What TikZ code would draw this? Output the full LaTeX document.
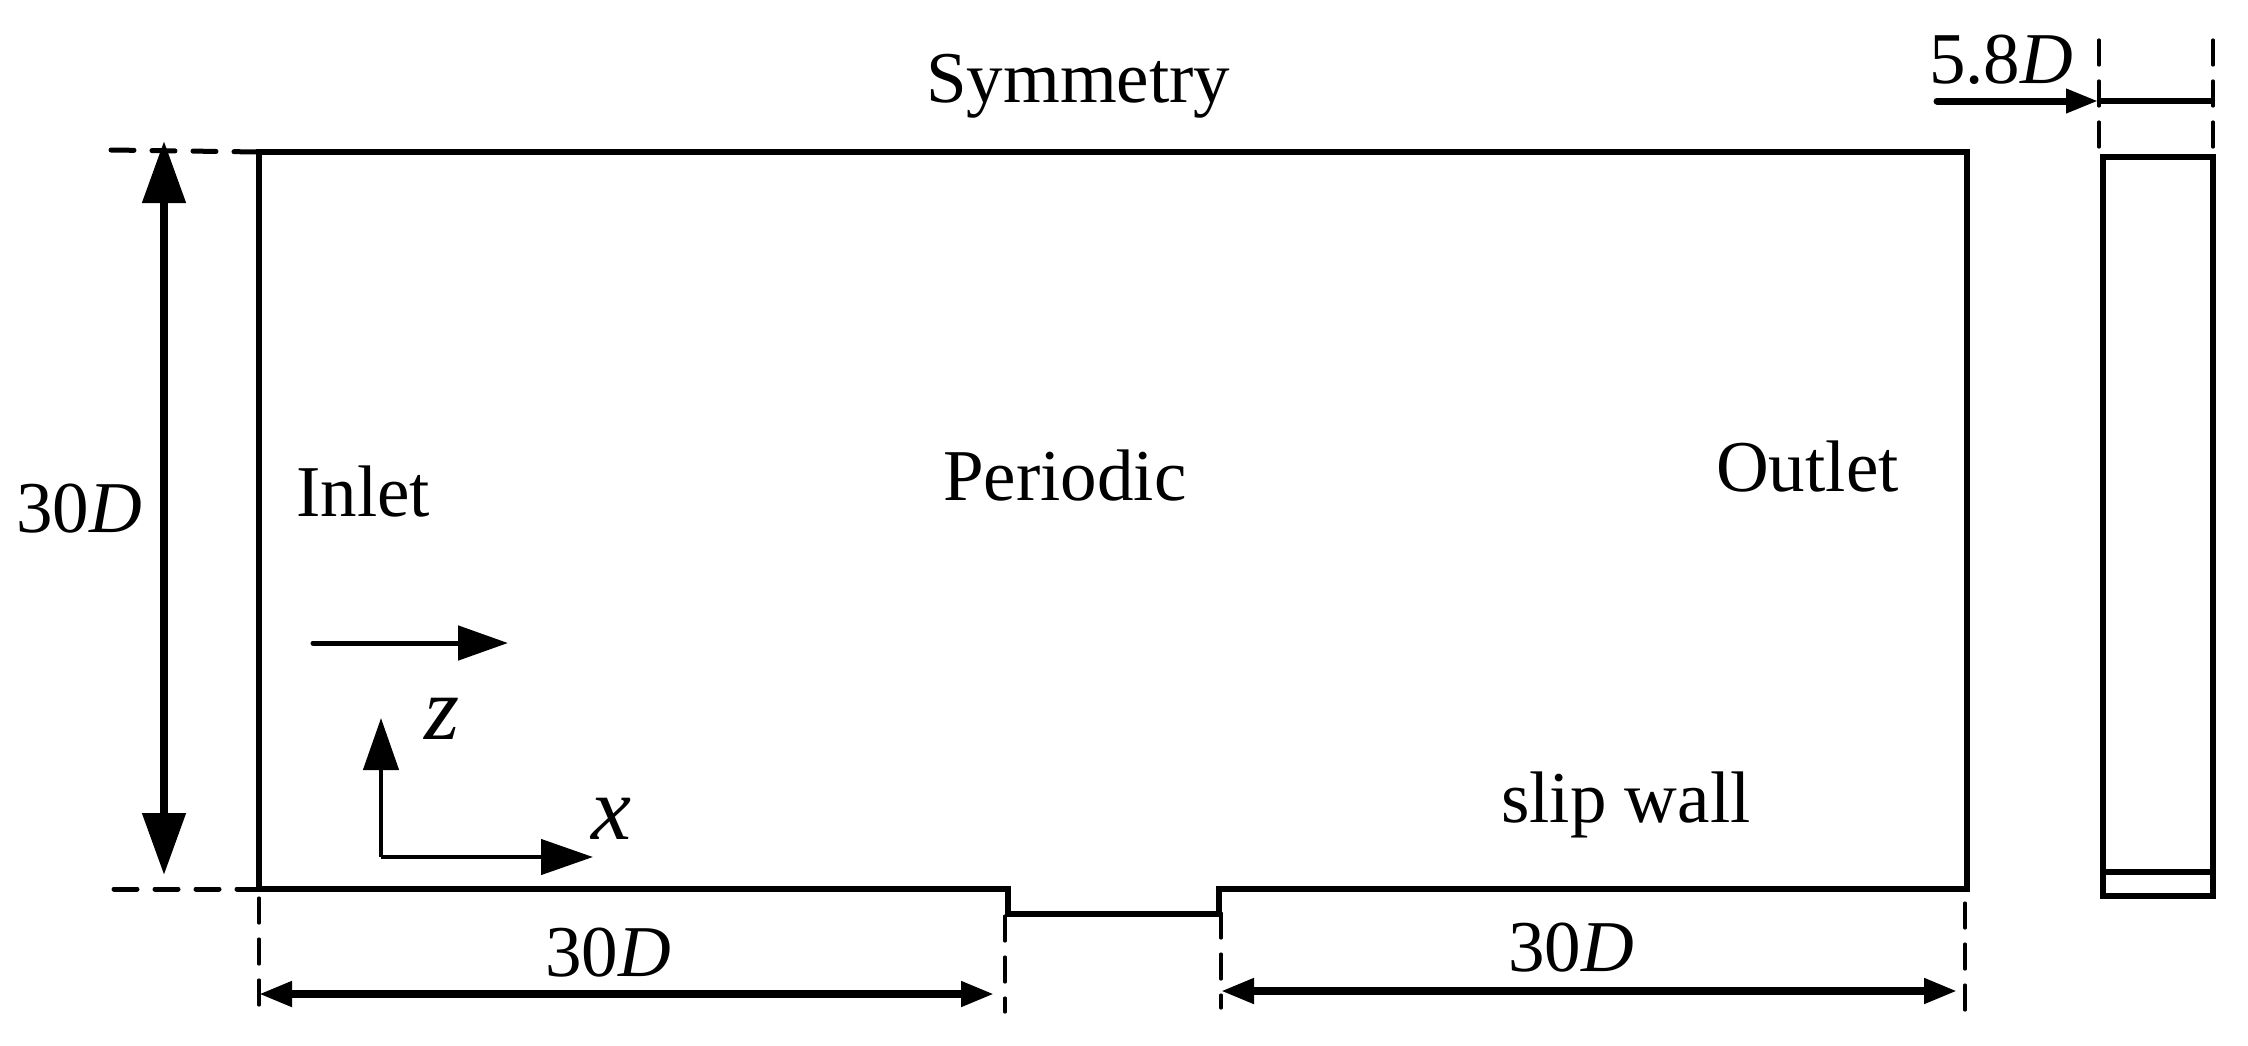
\documentclass[tikz,border=0pt]{standalone}
\usepackage{fontspec}
\setmainfont{Liberation Serif}
\usetikzlibrary{arrows.meta}
\tikzset{
  wall/.style={line width=5.5pt,line join=miter,line cap=butt},
  guide/.style={line width=3.2pt,dash pattern=on 25pt off 16pt,line cap=round},
  guideh/.style={line width=5pt,dash pattern=on 23pt off 18pt,line cap=round},
  bigdim/.style={line width=8pt,{Triangle[length=62pt,width=42pt]}-{Triangle[length=62pt,width=42pt]}},
  dimline/.style={line width=7.5pt,{Triangle[length=33pt,width=24pt]}-{Triangle[length=33pt,width=24pt]}},
  flow/.style={line width=5pt,line cap=round,-{Triangle[length=50pt,width=34pt]}},
  axis/.style={line width=4.5pt,-{Triangle[length=52pt,width=35pt]}},
  lab/.style={inner sep=0pt,anchor=base west,font=\fontsize{73}{80}\selectfont},
  axlab/.style={inner sep=0pt,anchor=base west,font=\fontsize{90}{96}\selectfont\itshape},
}
\begin{document}
\begin{tikzpicture}[x=1pt,y=-1pt]
\useasboundingbox (0,0) rectangle (2248,1045);
% domain corners
\coordinate (tl) at (259,152);
\coordinate (tr) at (1967,152);
\coordinate (br) at (1967,889);
\coordinate (sr1) at (1219,889);
\coordinate (sr2) at (1219,914);
\coordinate (sl2) at (1008,914);
\coordinate (sl1) at (1008,889);
\coordinate (bl) at (259,889);
\draw[wall] (tl) -- (tr) -- (br) -- (sr1) -- (sr2) -- (sl2) -- (sl1) -- (bl) -- cycle;
% side view
\coordinate (stl) at (2103,157);
\coordinate (str) at (2213,157);
\coordinate (sbr) at (2213,896);
\coordinate (sbl) at (2103,896);
\coordinate (sil) at (2103,872);
\coordinate (sir) at (2213,872);
\draw[wall] (stl) -- (str) -- (sbr) -- (sbl) -- cycle;
\draw[wall] (sil) -- (sir);
% guides
\coordinate (gt) at (111,150);
\coordinate (gb) at (114,889);
\draw[guideh] (gt) -- (tl);
\draw[guideh] (gb) -- (bl);
\coordinate (v1a) at (259,898); \coordinate (v1b) at (259,1008);
\coordinate (v2a) at (1005,916); \coordinate (v2b) at (1005,1012);
\coordinate (v3a) at (1221,913); \coordinate (v3b) at (1221,1008);
\coordinate (v4a) at (1965,903); \coordinate (v4b) at (1965,1010);
\coordinate (v5a) at (2099,40); \coordinate (v5b) at (2099,149);
\coordinate (v6a) at (2213,40); \coordinate (v6b) at (2213,149);
\foreach \p in {1,...,6} {\draw[guide] (v\p a) -- (v\p b);}
% dimensions
\coordinate (d1a) at (164,141); \coordinate (d1b) at (164,875);
\draw[bigdim] (d1a) -- (d1b);
\coordinate (d2a) at (259,994); \coordinate (d2b) at (994,994);
\draw[dimline] (d2a) -- (d2b);
\coordinate (d3a) at (1221,991); \coordinate (d3b) at (1957,991);
\draw[dimline] (d3a) -- (d3b);
\coordinate (d4a) at (1937,101); \coordinate (d4b) at (2098,101); \coordinate (d4c) at (2213,101);
\draw[line width=7pt,line cap=round,-{Triangle[length=32pt,width=23pt]}] (d4a) -- (d4b);
\draw[line width=6pt] (d4b) -- (d4c);
% flow arrow and axes
\coordinate (fa) at (313,643); \coordinate (fb) at (508,643);
\draw[flow] (fa) -- (fb);
\coordinate (o) at (381,857); \coordinate (xe) at (593,857); \coordinate (ze) at (381,718);
\draw[axis] (o) -- (xe);
\draw[axis] (o) -- (ze);
% labels
\node[lab] (sym) at (926,102) {Symmetry};
\node[lab] (per) at (943,500) {Periodic};
\node[lab] (inl) at (296,516) {Inlet};
\node[lab] (out) at (1716,491) {Outlet};
\node[lab] (slip) at (1501,822) {slip wall};
\node[lab] (hgt) at (16,532) {30\textit{D}};
\node[lab] (len1) at (545,976) {30\textit{D}};
\node[lab] (len2) at (1508,971) {30\textit{D}};
\node[lab] (wid) at (1929,83) {5.8\textit{D}};
\node[axlab] (zl) at (424,739) {z};
\node[axlab] (xl) at (591,839) {x};
\end{tikzpicture}
\end{document}
